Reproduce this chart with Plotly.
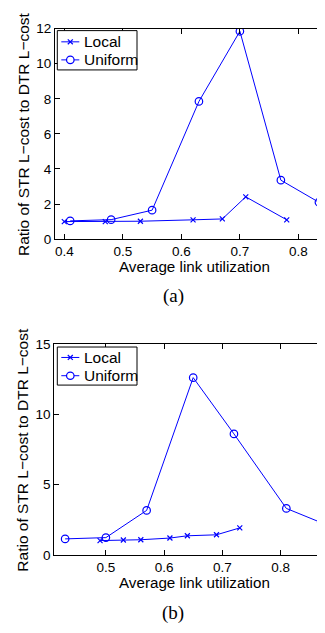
import plotly.graph_objects as go

# Panel (a)
a_local_x = [0.40, 0.47, 0.53, 0.62, 0.67, 0.71, 0.78]
a_local_y = [1.00, 1.00, 1.02, 1.10, 1.15, 2.41, 1.10]
a_unif_x = [0.41, 0.48, 0.55, 0.63, 0.70, 0.77, 0.835]
a_unif_y = [1.04, 1.11, 1.65, 7.85, 11.85, 3.36, 2.10]
a_yticks = [0, 2, 4, 6, 8, 10, 12]
a_xticks = [0.4, 0.5, 0.6, 0.7, 0.8]

# Panel (b)
b_local_x = [0.49, 0.53, 0.56, 0.61, 0.64, 0.69, 0.73]
b_local_y = [1.04, 1.08, 1.10, 1.22, 1.38, 1.45, 1.94]
b_unif_x = [0.43, 0.50, 0.57, 0.65, 0.72, 0.81, 0.87]
b_unif_y = [1.16, 1.25, 3.18, 12.6, 8.61, 3.32, 2.31]
b_yticks = [0, 5, 10, 15]
b_xticks = [0.5, 0.6, 0.7, 0.8]

series_names = ["Local", "Uniform"]

# page body has an 8px margin; figure sized so the page does not scroll
OFF = 8
FW, FH = 317, 617
BLUE = "#0000ff"
SANS = "Liberation Sans, Arial, sans-serif"
SERIF = "Liberation Serif, DejaVu Serif, serif"


def px_x(p):
    return (p - OFF) / FW


def px_y(p):
    return 1 - (p - OFF) / FH


fig = go.Figure()

local_marker = dict(symbol="x-thin", size=5, line=dict(color=BLUE, width=1.2))
unif_marker = dict(symbol="circle-open", size=7.5, line=dict(color=BLUE, width=1.2))

for xs, ys, nm, mk, xa, ya in [
    (a_local_x, a_local_y, series_names[0], local_marker, "x", "y"),
    (a_unif_x, a_unif_y, series_names[1], unif_marker, "x", "y"),
    (b_local_x, b_local_y, series_names[0], local_marker, "x2", "y2"),
    (b_unif_x, b_unif_y, series_names[1], unif_marker, "x2", "y2"),
]:
    fig.add_trace(go.Scatter(x=xs, y=ys, mode="lines+markers", name=nm,
                             line=dict(color=BLUE, width=1), marker=mk,
                             xaxis=xa, yaxis=ya, showlegend=False))

axis_common = dict(showgrid=False, zeroline=False, showline=True, linecolor="black",
                   linewidth=1, ticks="inside", ticklen=5, tickcolor="black", tickwidth=1,
                   tickfont=dict(family=SANS, size=13.5, color="black"))

fig.update_layout(
    width=FW, height=FH, margin=dict(l=0, r=0, t=0, b=0),
    paper_bgcolor="white", plot_bgcolor="white",
    xaxis=dict(domain=[px_x(55), 1], range=[0.3841, 0.8454], tickvals=a_xticks,
               ticktext=[f"{v:.1f}" for v in a_xticks], mirror="ticks", anchor="y", **axis_common),
    yaxis=dict(domain=[px_y(237.7), px_y(22)], range=[0, 12], tickvals=a_yticks,
               mirror=False, anchor="x", **axis_common),
    xaxis2=dict(domain=[px_x(54.3), 1], range=[0.4114, 0.8764], tickvals=b_xticks,
                ticktext=[f"{v:.1f}" for v in b_xticks], mirror="ticks", anchor="y2", **axis_common),
    yaxis2=dict(domain=[px_y(561.7), px_y(345)], range=[0, 15], tickvals=b_yticks,
                mirror=False, anchor="x2", **axis_common),
    showlegend=False,
)

shapes = []
ann = []


def legend_box(x0, y0, x1, y1, rows):
    shapes.append(dict(type="rect", xref="paper", yref="paper",
                       x0=px_x(x0), x1=px_x(x1), y0=px_y(y1), y1=px_y(y0),
                       line=dict(color="black", width=1), fillcolor="white", layer="above"))
    for name, kind, yc in rows:
        shapes.append(dict(type="line", xref="paper", yref="paper",
                           x0=px_x(x0 + 4), x1=px_x(x0 + 22), y0=px_y(yc), y1=px_y(yc),
                           line=dict(color=BLUE, width=1), layer="above"))
        cx = x0 + 13
        if kind == "x":
            for d in (1, -1):
                shapes.append(dict(type="line", xref="paper", yref="paper",
                                   x0=px_x(cx - 2.5), x1=px_x(cx + 2.5),
                                   y0=px_y(yc - 2.5 * d), y1=px_y(yc + 2.5 * d),
                                   line=dict(color=BLUE, width=1.2), layer="above"))
        else:
            shapes.append(dict(type="circle", xref="paper", yref="paper",
                               x0=px_x(cx - 3.75), x1=px_x(cx + 3.75), y0=px_y(yc + 3.75), y1=px_y(yc - 3.75),
                               line=dict(color=BLUE, width=1.2), fillcolor="white", layer="above"))
        ann.append(dict(text=name, x=px_x(x0 + 24.5), y=px_y(yc), xref="paper", yref="paper",
                        showarrow=False, xanchor="left", yanchor="middle",
                        font=dict(family=SANS, size=15.5, color="black")))


legend_box(57.3, 24, 137, 64.3, [(series_names[0], "x", 35.5), (series_names[1], "o", 54)])
legend_box(57.3, 348.3, 137, 387.3, [(series_names[0], "x", 359), (series_names[1], "o", 377.7)])

ytitle = "Ratio of STR L\u2212cost to DTR L\u2212cost"
for yc in (130, 453.5):
    ann.append(dict(text=ytitle, x=px_x(23), y=px_y(yc), xref="paper", yref="paper",
                    textangle=-90, showarrow=False, xanchor="center", yanchor="middle",
                    font=dict(family=SANS, size=15.5, color="black")))
for yc in (265.5, 589.5):
    ann.append(dict(text="Average link utilization", x=px_x(194), y=px_y(yc), xref="paper", yref="paper",
                    showarrow=False, xanchor="center", yanchor="middle",
                    font=dict(family=SANS, size=15.2, color="black")))
for txt, yc in (("(a)", 296.5), ("(b)", 621)):
    ann.append(dict(text=txt, x=px_x(173), y=px_y(yc), xref="paper", yref="paper",
                    showarrow=False, xanchor="center", yanchor="middle",
                    font=dict(family=SERIF, size=19, color="black")))
fig.update_layout(annotations=ann, shapes=shapes)

fig.write_html("out.html")
